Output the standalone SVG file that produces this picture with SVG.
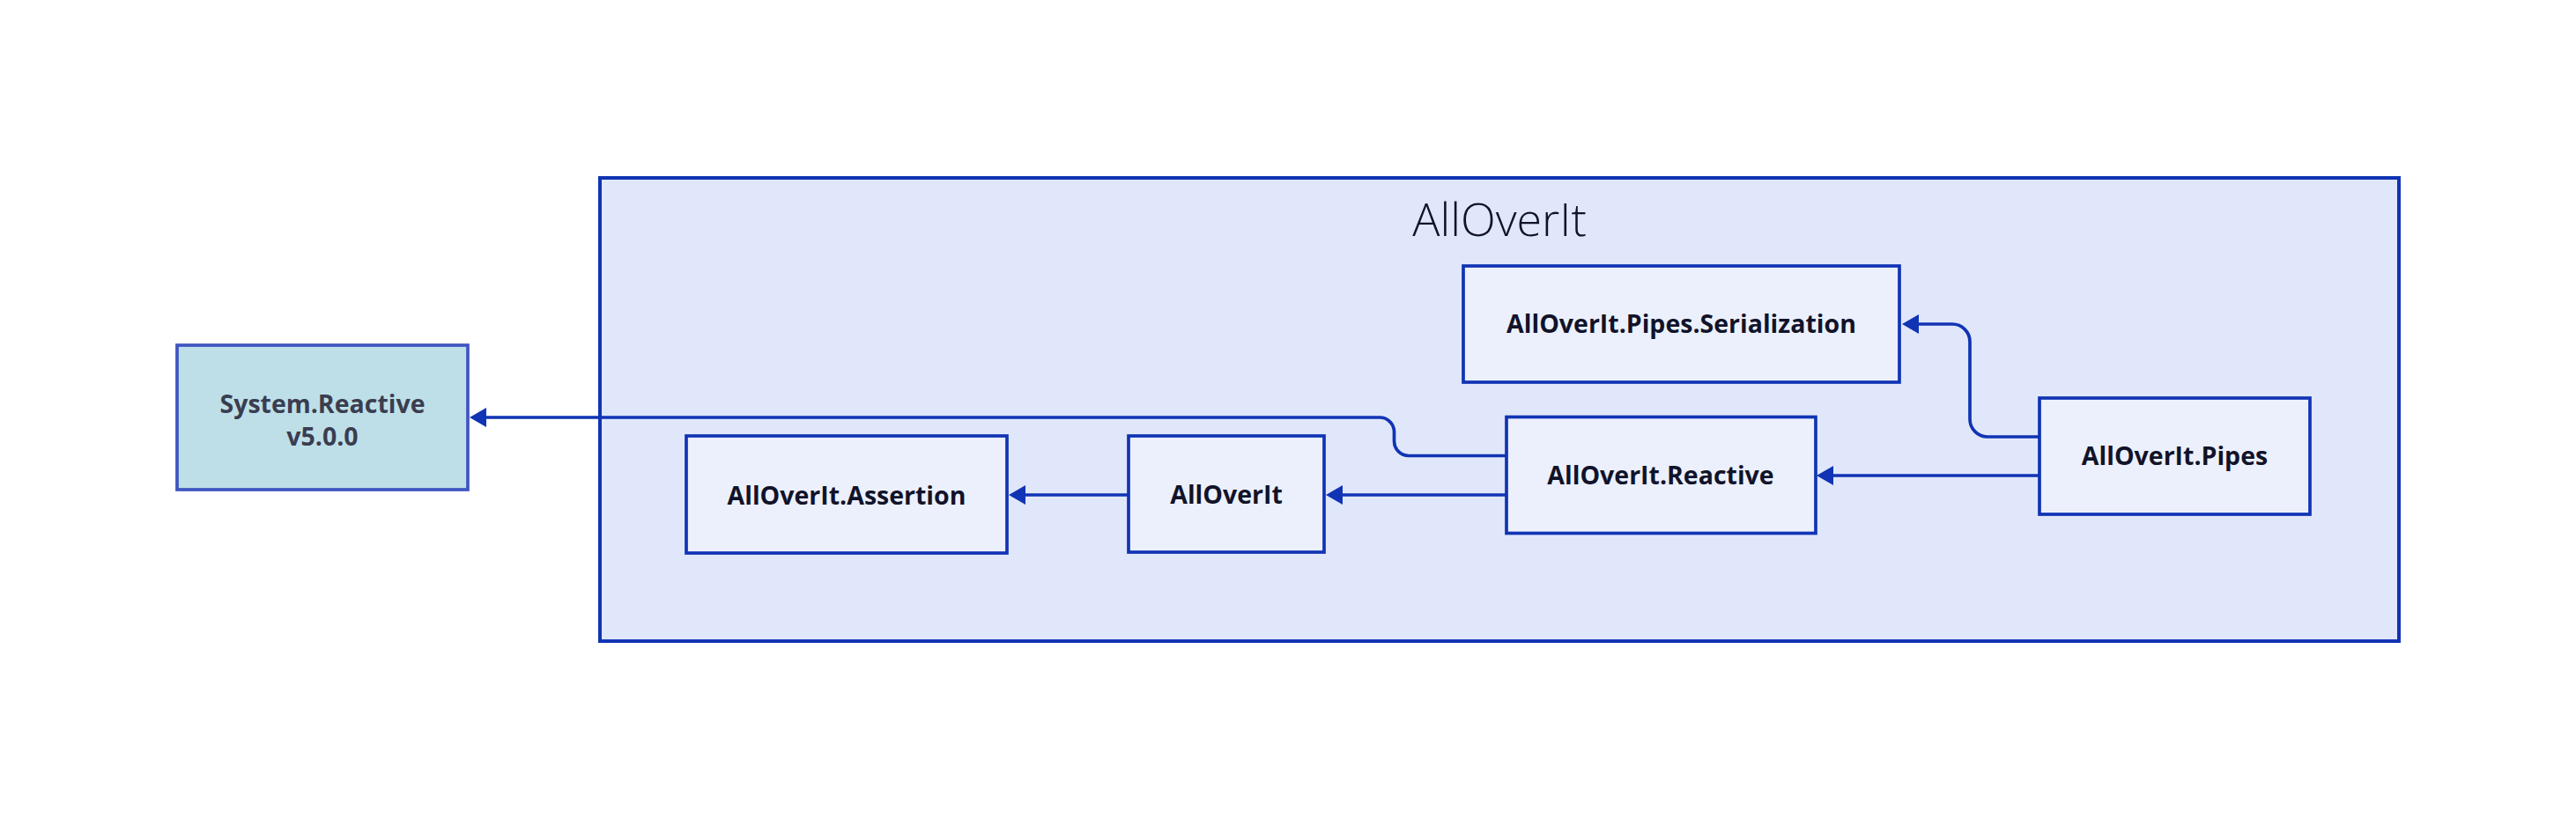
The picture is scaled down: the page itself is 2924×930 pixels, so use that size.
<svg xmlns="http://www.w3.org/2000/svg" width="2924" height="930" viewBox="0 0 2924 930">
  <defs>
    <marker id="arrow" viewBox="0 0 19 22" refX="0" refY="11" markerWidth="19" markerHeight="22" markerUnits="userSpaceOnUse" orient="auto">
      <path d="M0,0 L19,11 L0,22 z" fill="#1034b4"/>
    </marker>
    <style>
      .container { fill: #e1e7fa; stroke: #1034b4; stroke-width: 4; }
      .node { fill: #ecf0fc; stroke: #1034b4; stroke-width: 3.7; }
      .ext { fill: #bedfe8; stroke: #3f55c0; stroke-width: 3.7; }
      .label { font-family: "Open Sans", "Liberation Sans", sans-serif; font-weight: 700; font-size: 28.5px; fill: #11132a; text-anchor: middle; }
      .extlabel { fill: #3a3d50; }
      .title { font-family: "Open Sans", "Liberation Sans", sans-serif; font-weight: 300; font-size: 52px; fill: #11132a; text-anchor: middle; }
      .edge { fill: none; stroke: #1034b4; stroke-width: 3.7; marker-end: url(#arrow); }
    </style>
  </defs>
  <rect width="2924" height="930" fill="#ffffff"/>

  <g id="cluster-AllOverIt">
    <rect class="container" x="681" y="202" width="2042" height="526"/>
    <text class="title" x="1702" y="267.5">AllOverIt</text>
  </g>

  <g id="node-SystemReactive">
    <rect class="ext" x="201" y="392" width="330" height="164"/>
    <text class="label extlabel" x="366" y="469">System.Reactive</text>
    <text class="label extlabel" x="366" y="506">v5.0.0</text>
  </g>

  <g id="node-AllOverIt.Assertion">
    <rect class="node" x="779" y="495" width="364" height="133"/>
    <text class="label" x="961" y="573">AllOverIt.Assertion</text>
  </g>

  <g id="node-AllOverIt">
    <rect class="node" x="1281" y="495" width="222" height="132"/>
    <text class="label" x="1392" y="572">AllOverIt</text>
  </g>

  <g id="node-AllOverIt.Reactive">
    <rect class="node" x="1710" y="473.5" width="351" height="132"/>
    <text class="label" x="1885" y="550">AllOverIt.Reactive</text>
  </g>

  <g id="node-AllOverIt.Pipes.Serialization">
    <rect class="node" x="1661" y="302" width="495" height="132"/>
    <text class="label" x="1908.5" y="378">AllOverIt.Pipes.Serialization</text>
  </g>

  <g id="node-AllOverIt.Pipes">
    <rect class="node" x="2315" y="452" width="307" height="132"/>
    <text class="label" x="2468.5" y="528">AllOverIt.Pipes</text>
  </g>

  <g id="connectors">
    <path class="edge" d="M1710,517.5 H1599 A16.5,16.5 0 0 1 1582.5,501 V490.5 A16.5,16.5 0 0 0 1566,474 H552"/>
    <path class="edge" d="M1710,562 H1524"/>
    <path class="edge" d="M1281,562 H1164"/>
    <path class="edge" d="M2315,540 H2081"/>
    <path class="edge" d="M2315,496 H2256 A20,20 0 0 1 2236,476 V388 A20,20 0 0 0 2216,368 H2178"/>
  </g>
</svg>
